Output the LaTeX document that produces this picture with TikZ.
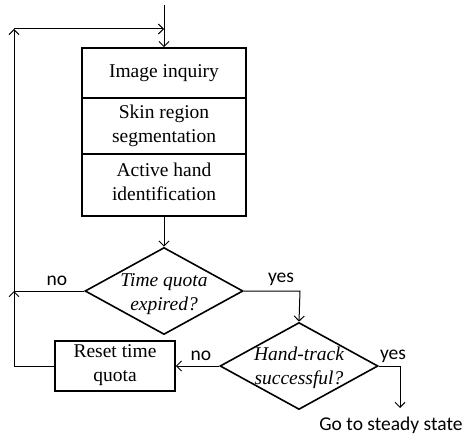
\documentclass[tikz,border=0pt]{standalone}
\usepackage{fontspec}
\setmainfont{Liberation Serif}
\newfontfamily\lab{Carlito}
\usetikzlibrary{shapes.geometric,arrows.meta}
\tikzset{
  shape line/.style={draw, line width=1.6pt},
  procbox/.style={shape line, rectangle, inner sep=0pt},
  decision/.style={shape line, diamond, inner sep=0pt, minimum width=158pt, minimum height=87pt},
  txt/.style={align=center, inner sep=0pt, font=\fontsize{19.5}{23.5}\selectfont},
  dtxt/.style={txt, font=\fontsize{19.5}{24.5}\selectfont\itshape},
  lbl/.style={inner sep=0pt, font=\lab\fontsize{19.5}{23}\selectfont},
  conn/.style={line width=1pt},
  arr/.style={conn, -{Straight Barb[length=5pt,width=10pt,line width=1pt]}},
}
\begin{document}
\begin{tikzpicture}[x=1pt,y=-1pt]
\useasboundingbox (0,0) rectangle (472,436);
% main box
\node[procbox, minimum width=164pt, minimum height=168pt] (main) at (164,132) {};
\node[txt] (t1) at (164,73) {Image inquiry};
\node[txt] (t2) at (164,126) {Skin region\\segmentation};
\node[txt] (t3) at (164,182) {Active hand\\identification};
\coordinate (s1) at (164,98);
\coordinate (s2) at (164,154);
\draw[line width=1.1pt] (main.west |- s1) -- (main.east |- s1);
\draw[line width=1.1pt] (main.west |- s2) -- (main.east |- s2);
% decisions
\node[decision] (d1) at (164,291) {};
\node[dtxt] (d1t) at (164,294) {Time quota\\expired?};
\node[decision] (d2) at (299,366) {};
\node[dtxt] (d2t) at (299,368) {Hand-track\\successful?};
% reset
\node[procbox, minimum width=120pt, minimum height=50pt] (reset) at (115,366) {};
\node[txt] (rt) at (115,365) {Reset time\\quota};
% coordinates
\coordinate (in) at (164,5);
\coordinate (lj) at (164,29);
\coordinate (lt) at (14,29);
\coordinate (jn) at (14,291);
\coordinate (lb) at (14,366);
\coordinate (yr) at (300,291);
\coordinate (gr) at (400,366);
\coordinate (go) at (400,408);
% connectors
\draw[arr] (in) -- (main.north);
\draw[arr] (main.south) -- (d1.north);
\draw[conn] (d1.west) -- (jn);
\draw[conn] (reset.west) -- (lb);
\draw[arr] (lb) -- (jn);
\draw[arr] (jn) -- (lt);
\draw[arr] (lt) -- (lj);
\draw[arr] (d1.east) -- (yr) -- (d2.north);
\draw[arr] (d2.west) -- (reset.east);
\draw[arr] (d2.east) -- (gr) -- (go);
% labels
\node[lbl] (no1) at (57,281) {no};
\node[lbl] (yes1) at (281,279) {yes};
\node[lbl] (no2) at (201,356) {no};
\node[lbl] (yes2) at (393,356) {yes};
\node[lbl] (goto) at (391,425) {Go to steady state};
\end{tikzpicture}
\end{document}
